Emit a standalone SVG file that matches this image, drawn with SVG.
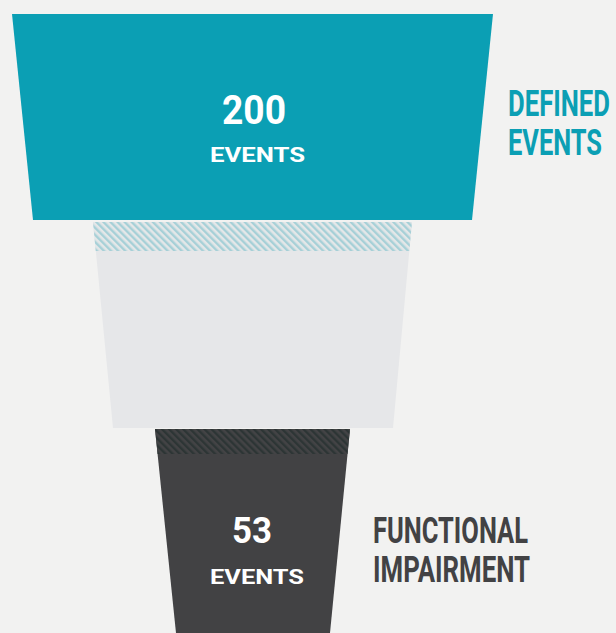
<svg xmlns="http://www.w3.org/2000/svg" width="616" height="633" viewBox="0 0 616 633">
  <style>
    .num { font-family: Roboto, "Liberation Sans", sans-serif; font-weight: 700; fill: #ffffff; text-anchor: middle; }
    .unit { font-family: Roboto, "Liberation Sans", sans-serif; font-weight: 700; fill: #ffffff; font-size: 20px; }
    .label { font-family: Roboto, "Liberation Sans", sans-serif; font-weight: 700; font-size: 37px; }
  </style>
  <defs>
    <pattern id="hatch-teal" width="5" height="5" patternUnits="userSpaceOnUse" patternTransform="rotate(-45)">
      <rect width="5" height="5" fill="#e4e7e8"/>
      <rect width="2.4" height="5" fill="#a6d0d7"/>
    </pattern>
    <pattern id="hatch-dark" width="5" height="5" patternUnits="userSpaceOnUse" patternTransform="rotate(-45)">
      <rect width="5" height="5" fill="#434345"/>
      <rect width="2.4" height="5" fill="#2d3535"/>
    </pattern>
  </defs>

  <rect width="616" height="633" fill="#f2f2f1"/>

  <!-- top tier: defined events -->
  <g id="tier-defined">
    <polygon points="12,14 493,14 472,220 33,220" fill="#0b9fb4"/>
    <text class="num" x="254" y="124" font-size="41" textLength="64" lengthAdjust="spacingAndGlyphs">200</text>
    <text class="unit" x="210" y="162" textLength="95" lengthAdjust="spacingAndGlyphs">EVENTS</text>
  </g>

  <!-- middle tier -->
  <g id="tier-middle">
    <polygon points="93,222 412,222 393,428 113,428" fill="#e6e7e9"/>
    <polygon points="93,222 412,222 409.3,251 95.7,251" fill="url(#hatch-teal)"/>
  </g>

  <!-- bottom tier: functional impairment -->
  <g id="tier-functional">
    <polygon points="155,429 350,429 330,633 176,633" fill="#424244"/>
    <polygon points="155,429 350,429 347.5,454 157.6,454" fill="url(#hatch-dark)"/>
    <text class="num" x="252" y="543" font-size="37" textLength="40" lengthAdjust="spacingAndGlyphs">53</text>
    <text class="unit" x="210" y="584" textLength="94" lengthAdjust="spacingAndGlyphs">EVENTS</text>
  </g>

  <!-- side labels -->
  <g id="label-defined" class="label" fill="#0b9fb4">
    <text x="508" y="116" textLength="102" lengthAdjust="spacingAndGlyphs">DEFINED</text>
    <text x="508" y="155" textLength="94" lengthAdjust="spacingAndGlyphs">EVENTS</text>
  </g>
  <g id="label-functional" class="label" fill="#424244">
    <text x="373" y="543" textLength="155" lengthAdjust="spacingAndGlyphs">FUNCTIONAL</text>
    <text x="373" y="582" textLength="157" lengthAdjust="spacingAndGlyphs">IMPAIRMENT</text>
  </g>
</svg>
